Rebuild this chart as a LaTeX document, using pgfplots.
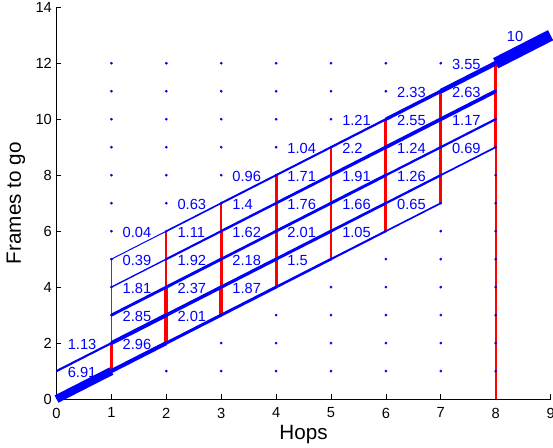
\documentclass[border=0pt]{standalone}
\usepackage{fontspec}
\setmainfont{Liberation Sans}
\usepackage{pgfplots}
\pgfplotsset{compat=1.18}

% blue edge (h,f)->(h1,f1), width grows with its value, label above it
\newcommand{\E}[5]{%
  \addplot[blue, line width={(1.05*#5+0.95)*0.75pt}, forget plot] coordinates {(#1,#2) (#3,#4)};
  \node[anchor=west, inner sep=0pt, text=blue, font=\fontsize{11}{13}\selectfont]
    at (axis cs:#1+0.2,#2+0.95) {#5};}
% red vertical segment at x from y0 to y1, width in px
\newcommand{\R}[4]{%
  \addplot[red, line width={#4*0.75pt}, forget plot] coordinates {(#1,#2) (#1,#3)};}

\begin{document}
\begin{tikzpicture}
\useasboundingbox (-42.4pt,-36pt) rectangle (372.3pt,299.25pt);
\begin{axis}[
  at={(0,0)}, anchor=south west,
  scale only axis, width=370.5pt, height=293.8pt,
  xmin=0, xmax=9, ymin=0, ymax=14,
  xtick={0,...,9}, ytick={0,2,...,14},
  axis x line*=bottom, axis y line*=left,
  axis line style={-, black, line width=0.6pt},
  tick align=inside, major tick length=3.5pt,
  tick style={black, line width=0.5pt},
  clip=false,
  /pgf/number format/assume math mode=true,
  tick label style={font=\fontsize{11}{13}\selectfont},
  xticklabel style={yshift=-3pt},
  xlabel={Hops}, ylabel={Frames to go},
  xlabel style={font=\fontsize{15.5}{18}\selectfont, at={(axis description cs:0.5,-0.0893)}, anchor=center},
  ylabel style={font=\fontsize{15.5}{18}\selectfont, at={(axis description cs:-0.0823,0.5)}, anchor=center},
]
% grid of nodes
\addplot[only marks, mark=*, mark size=0.8pt, blue, forget plot] coordinates {
  (1,1) (1,2) (1,3) (1,4) (1,5) (1,6) (1,7) (1,8) (1,9) (1,10) (1,11) (1,12)
  (2,1) (2,2) (2,3) (2,4) (2,5) (2,6) (2,7) (2,8) (2,9) (2,10) (2,11) (2,12)
  (3,1) (3,2) (3,3) (3,4) (3,5) (3,6) (3,7) (3,8) (3,9) (3,10) (3,11) (3,12)
  (4,1) (4,2) (4,3) (4,4) (4,5) (4,6) (4,7) (4,8) (4,9) (4,10) (4,11) (4,12)
  (5,1) (5,2) (5,3) (5,4) (5,5) (5,6) (5,7) (5,8) (5,9) (5,10) (5,11) (5,12)
  (6,1) (6,2) (6,3) (6,4) (6,5) (6,6) (6,7) (6,8) (6,9) (6,10) (6,11) (6,12)
  (7,1) (7,2) (7,3) (7,4) (7,5) (7,6) (7,7) (7,8) (7,9) (7,10) (7,11) (7,12)
  (8,1) (8,2) (8,3) (8,4) (8,5) (8,6) (8,7) (8,8) (8,9) (8,10) (8,11) (8,12)
};
% red verticals
\R{1}{1}{2}{3.8} \R{1}{2}{5}{1.8}
\R{2}{2}{4}{3.8} \R{2}{4}{5}{2.1} \R{2}{5}{6}{1.8}
\R{3}{3}{4}{3.6} \R{3}{4}{6}{2.8} \R{3}{6}{7}{1.8}
\R{4}{4}{8}{3.1}
\R{5}{5}{9}{2.9}
\R{6}{6}{10}{2.9}
\R{7}{7}{11}{3.3}
\R{8}{0}{9}{1.8}   \R{8}{9}{10}{2.5} \R{8}{10}{12}{3.4}
% blue edges
\E{0}{0}{1}{1}{6.91} \E{0}{1}{1}{2}{1.13}
\E{1}{1}{2}{2}{2.96} \E{1}{2}{2}{3}{2.85} \E{1}{3}{2}{4}{1.81} \E{1}{4}{2}{5}{0.39} \E{1}{5}{2}{6}{0.04}
\E{2}{2}{3}{3}{2.01} \E{2}{3}{3}{4}{2.37} \E{2}{4}{3}{5}{1.92} \E{2}{5}{3}{6}{1.11} \E{2}{6}{3}{7}{0.63}
\E{3}{3}{4}{4}{1.87} \E{3}{4}{4}{5}{2.18} \E{3}{5}{4}{6}{1.62} \E{3}{6}{4}{7}{1.4}  \E{3}{7}{4}{8}{0.96}
\E{4}{4}{5}{5}{1.5}  \E{4}{5}{5}{6}{2.01} \E{4}{6}{5}{7}{1.76} \E{4}{7}{5}{8}{1.71} \E{4}{8}{5}{9}{1.04}
\E{5}{5}{6}{6}{1.05} \E{5}{6}{6}{7}{1.66} \E{5}{7}{6}{8}{1.91} \E{5}{8}{6}{9}{2.2}  \E{5}{9}{6}{10}{1.21}
\E{6}{6}{7}{7}{0.65} \E{6}{7}{7}{8}{1.26} \E{6}{8}{7}{9}{1.24} \E{6}{9}{7}{10}{2.55} \E{6}{10}{7}{11}{2.33}
\E{7}{8}{8}{9}{0.69} \E{7}{9}{8}{10}{1.17} \E{7}{10}{8}{11}{2.63} \E{7}{11}{8}{12}{3.55}
\E{8}{12}{9}{13}{10}
\end{axis}
\end{tikzpicture}
\end{document}
